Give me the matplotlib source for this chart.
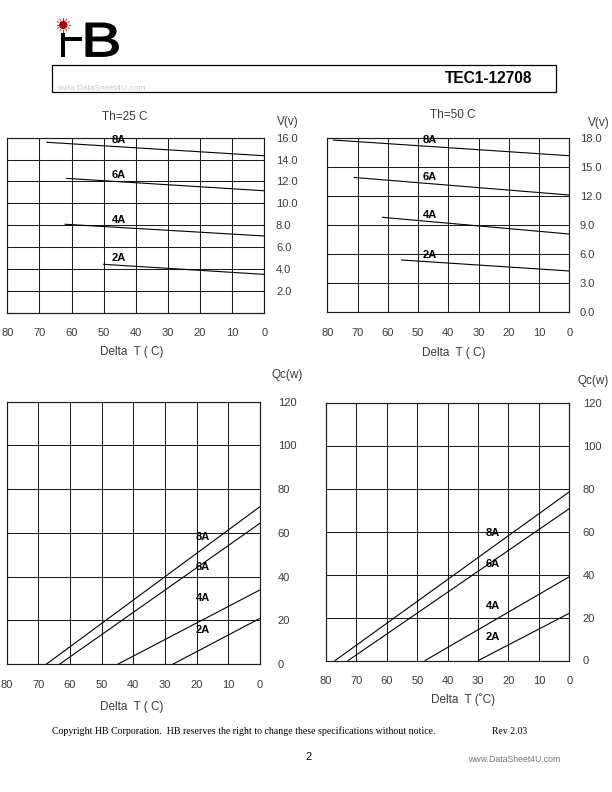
import matplotlib
matplotlib.use("Agg")
import matplotlib.pyplot as plt
import numpy as np
from matplotlib.patches import Rectangle, Circle, PathPatch
from matplotlib.textpath import TextPath
from matplotlib.font_manager import FontProperties
from matplotlib.transforms import Affine2D

plt.rcParams['font.family'] = ['Liberation Sans', 'DejaVu Sans']

# ----------------------------------
# Data
# ----------------------------------
currents = ["2A", "4A", "6A", "8A"]

# Voltage vs Delta T, Th = 25 C (straight lines from start point to Delta T = 0)
v25_start_dt = [50.0, 62.0, 61.5, 67.7]
v25_start_v = [4.43, 8.09, 12.28, 15.58]
v25_end_v = [3.51, 7.02, 11.15, 14.35]

# Voltage vs Delta T, Th = 50 C
v50_start_dt = [55.4, 61.7, 71.1, 78.0]
v50_start_v = [5.39, 9.79, 13.90, 17.76]
v50_end_v = [4.26, 8.07, 12.09, 16.14]

# Qc vs Delta T: zero at Delta T max, qc_max at Delta T = 0
qc25_dt_max = [27.4, 44.8, 63.2, 67.4]
qc25_q_max = [20.9, 33.9, 64.4, 72.0]
qc50_dt_max = [29.9, 47.4, 72.7, 77.0]
qc50_q_max = [22.0, 39.0, 70.7, 78.5]

dt_ticks = [80, 70, 60, 50, 40, 30, 20, 10, 0]
v25_ticks = [0, 2, 4, 6, 8, 10, 12, 14, 16]
v25_labels = ["", "2.0", "4.0", "6.0", "8.0", "10.0", "12.0", "14.0", "16.0"]
v50_ticks = [0, 3, 6, 9, 12, 15, 18]
v50_labels = ["0.0", "3.0", "6.0", "9.0", "12.0", "15.0", "18.0"]
qc_ticks = [0, 20, 40, 60, 80, 100, 120]

# ----------------------------------
# Page
# ----------------------------------
W, H = 612, 792
fig = plt.figure(figsize=(W / 100, H / 100), dpi=100)
TXT = "#3a3a3a"
GRID = "#1e1e1e"


def box(x0, y0, x1, y1):
    # pixel box (y down) -> figure fraction
    return [x0 / W, 1 - y1 / H, (x1 - x0) / W, (y1 - y0) / H]


def setup(ax, ymax, yticks, ylabels, ypad):
    ax.set_xlim(80, 0)
    ax.set_ylim(0, ymax)
    ax.set_xticks(dt_ticks)
    ax.set_xticklabels([str(t) for t in dt_ticks])
    ax.set_yticks(yticks)
    ax.set_yticklabels(ylabels)
    ax.yaxis.tick_right()
    ax.tick_params(length=0, labelsize=8, labelcolor=TXT)
    ax.tick_params(axis="x", pad=11.3)
    ax.tick_params(axis="y", pad=ypad)
    ax.grid(True, color=GRID, lw=0.75)
    for s in ax.spines.values():
        s.set_color(GRID)
        s.set_linewidth(0.85)


# top-left: V, Th=25
ax1 = fig.add_axes(box(7.3, 137.7, 264.3, 312.8))
setup(ax1, 16, v25_ticks, v25_labels, 8.4)
for name, x0, y0, y1 in zip(currents, v25_start_dt, v25_start_v, v25_end_v):
    ax1.plot([x0, 0], [y0, y1], color="black", lw=0.8)
    yl = y1 + (y0 - y1) * 45 / x0
    ax1.text(45.2, yl + 0.2, name, ha="center", va="bottom", fontsize=8,
             fontweight="bold")

# top-right: V, Th=50
ax2 = fig.add_axes(box(327.3, 137.7, 569.3, 312.3))
setup(ax2, 18, v50_ticks, v50_labels, 7.5)
for name, x0, y0, y1 in zip(currents, v50_start_dt, v50_start_v, v50_end_v):
    ax2.plot([x0, 0], [y0, y1], color="black", lw=0.8)
    yl = y1 + (y0 - y1) * 46 / x0
    ax2.text(46, yl + 0.2, name, ha="center", va="bottom", fontsize=8,
             fontweight="bold")

# bottom-left: Qc, Th=25
qc25_label_y = [15.6, 30, 44.5, 58]
ax3 = fig.add_axes(box(6.7, 401.7, 260.0, 664.0))
setup(ax3, 120, qc_ticks, [str(t) for t in qc_ticks], 12.8)
for name, x0, q, ly in zip(currents, qc25_dt_max, qc25_q_max, qc25_label_y):
    ax3.plot([x0, 0], [0, q], color="black", lw=0.8)
    ax3.text(20.2, ly, name, ha="left", va="center", fontsize=8,
             fontweight="bold")

# bottom-right: Qc, Th=50
qc50_label_y = [10.9, 25.6, 45.1, 59.4]
ax4 = fig.add_axes(box(326.0, 402.7, 569.3, 660.5))
setup(ax4, 120, qc_ticks, [str(t) for t in qc_ticks], 9.7)
for name, x0, q, ly in zip(currents, qc50_dt_max, qc50_q_max, qc50_label_y):
    ax4.plot([x0, 0], [0, q], color="black", lw=0.8)
    ax4.text(27.4, ly, name, ha="left", va="center", fontsize=8,
             fontweight="bold")

# ----------------------------------
# Page decorations in pixel coordinates
# ----------------------------------
page = fig.add_axes([0, 0, 1, 1])
page.set_xlim(0, W)
page.set_ylim(H, 0)
page.axis("off")

# logo: sun + i stem + crossbar + B
page.add_patch(Circle((63.3, 25), 4.2, color="#b00000", lw=0))
for a in np.linspace(0, 2 * np.pi, 12, endpoint=False):
    page.plot([63.3 + 5.4 * np.cos(a), 63.3 + 6.8 * np.cos(a)],
              [25 + 5.4 * np.sin(a), 25 + 6.8 * np.sin(a)],
              color="#cc2020", lw=0.7)
page.add_patch(Rectangle((61, 32.7), 4.4, 24.0, color="black", lw=0))
page.add_patch(Rectangle((61, 36.7), 21, 4.0, color="black", lw=0))
bp = TextPath((0, 0), "B", size=100, prop=FontProperties(family="Liberation Sans"))
vx, vy = bp.vertices[:, 0], bp.vertices[:, 1]
sx = (118.3 - 81.2) / (vx.max() - vx.min())
sy = (56.2 - 23.2) / (vy.max() - vy.min())
tr = Affine2D().translate(-vx.min(), -vy.min()).scale(sx, -sy).translate(81.2, 56.2)
page.add_patch(PathPatch(tr.transform_path(bp), fc="black", ec="black", lw=1.0))

# header box
page.add_patch(Rectangle((52, 65), 504, 26.7, fill=False, ec="black", lw=0.9))
page.text(532.5, 78.5, "TEC1-12708", ha="right", va="center", fontsize=11.2,
          fontweight="bold")
page.text(56.7, 88, "www.DataSheet4U.com", ha="left", va="center", fontsize=6,
          color="#c8c8c8")

# chart titles and axis labels
lab = dict(fontsize=8.5, color=TXT)
page.text(125, 116.7, "Th=25 C", ha="center", va="center", **lab)
page.text(453, 115, "Th=50 C", ha="center", va="center", **lab)
page.text(276.7, 122.3, "V(v)", ha="left", va="center", **lab)
page.text(588, 122.7, "V(v)", ha="left", va="center", **lab)
page.text(271.7, 375, "Qc(w)", ha="left", va="center", **lab)
page.text(578, 380.7, "Qc(w)", ha="left", va="center", **lab)
page.text(131.7, 352.3, "Delta  T ( C)", ha="center", va="center", **lab)
page.text(453.3, 352.7, "Delta  T ( C)", ha="center", va="center", **lab)
page.text(131.7, 706.7, "Delta  T ( C)", ha="center", va="center", **lab)
page.text(463.3, 700, "Delta  T (\u02daC)", ha="center", va="center", **lab)

# footer
serif = ["Liberation Serif", "DejaVu Serif"]
page.text(52, 731, "Copyright HB Corporation.  HB reserves the right to change "
          "these specifications without notice.", ha="left", va="center",
          fontsize=7.15, family=serif)
page.text(492, 731, "Rev 2.03", ha="left", va="center", fontsize=7, family=serif)
page.text(309, 757, "2", ha="center", va="center", fontsize=8)
page.text(468, 759, "www.DataSheet4U.com", ha="left", va="center",
          fontsize=6.3, color="#777777")

fig.savefig("out.png", dpi=100)
